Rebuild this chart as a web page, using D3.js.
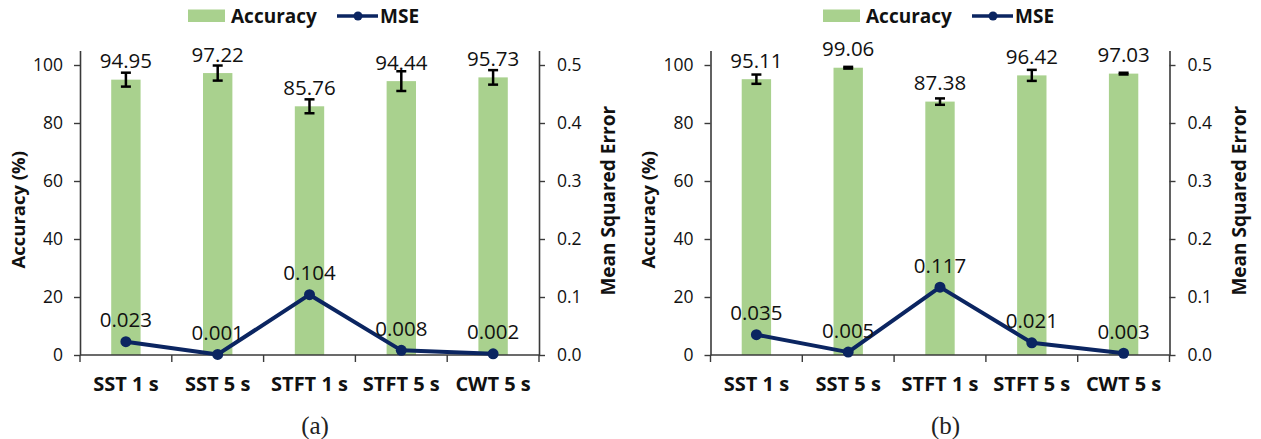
<!DOCTYPE html>
<html>
<head>
<meta charset="utf-8">
<script src="https://cdn.jsdelivr.net/npm/d3@7"></script>
<style>
  html, body { margin: 0; padding: 0; background: #fff; }
  svg { display: block; }
</style>
</head>
<body>
<svg id="chart" width="1261" height="439"></svg>
<script>
// ---------- data ----------
const categories = ["SST 1 s", "SST 5 s", "STFT 1 s", "STFT 5 s", "CWT 5 s"];
const accuracyA = [94.95, 97.22, 85.76, 94.44, 95.73];
const accErrA   = [2.4, 2.6, 2.4, 3.4, 2.5];
const mseA      = [0.023, 0.001, 0.104, 0.008, 0.002];
const accuracyB = [95.11, 99.06, 87.38, 96.42, 97.03];
const accErrB   = [1.6, 0.3, 1.1, 1.9, 0.3];
const mseB      = [0.035, 0.005, 0.117, 0.021, 0.003];
const accTicks  = [0, 20, 40, 60, 80, 100];
const mseTicks  = [0.0, 0.1, 0.2, 0.3, 0.4, 0.5];
const captions  = ["(a)", "(b)"];

// ---------- style ----------
const GREEN = "#A9D18E";
const NAVY = "#0B2561";
const AXIS = "#3a3a3a";
const FONT = "'Open Sans', 'Liberation Sans', sans-serif";

const svg = d3.select("#chart");

function drawPanel(ox, lx, acc, err, mse, caption) {
  const g = svg.append("g").attr("transform", `translate(${ox},0)`);
  const left = 80, right = 539, top = 50.5, bottom = 355;

  const x = d3.scaleBand().domain(categories).range([left, right])
    .paddingInner(0.68).paddingOuter(0.34);
  const y = d3.scaleLinear().domain([0, 105]).range([bottom, top]);
  const y2 = d3.scaleLinear().domain([0, 0.525]).range([bottom, top]);
  const step = x.step();
  const gap = (step - x.bandwidth()) / 2;

  // bars
  g.selectAll("rect.bar").data(categories).join("rect")
    .attr("class", "bar")
    .attr("x", d => x(d))
    .attr("width", x.bandwidth())
    .attr("y", (d, i) => y(acc[i]))
    .attr("height", (d, i) => y(0) - y(acc[i]))
    .attr("fill", GREEN);

  // error bars
  const eb = g.selectAll("g.err").data(categories).join("g").attr("class", "err");
  const cx = d => x(d) + x.bandwidth() / 2;
  eb.append("line")
    .attr("x1", cx).attr("x2", cx)
    .attr("y1", (d, i) => y(acc[i] + err[i]))
    .attr("y2", (d, i) => y(acc[i] - err[i]))
    .attr("stroke", "#000").attr("stroke-width", 2.5);
  [1, -1].forEach(s => {
    eb.append("line")
      .attr("x1", d => cx(d) - 5).attr("x2", d => cx(d) + 5)
      .attr("y1", (d, i) => y(acc[i] + s * err[i]))
      .attr("y2", (d, i) => y(acc[i] + s * err[i]))
      .attr("stroke", "#000").attr("stroke-width", 2.5);
  });

  // accuracy labels
  g.selectAll("text.accl").data(categories).join("text")
    .attr("class", "accl")
    .attr("x", cx)
    .attr("y", (d, i) => y(acc[i]) - 19.5)
    .attr("text-anchor", "middle")
    .attr("dominant-baseline", "central")
    .attr("font-family", FONT).attr("font-size", 20.5)
    .attr("fill", "#111")
    .text((d, i) => acc[i].toFixed(2));

  // axes
  const axL = g.append("g").attr("transform", `translate(${left},0)`)
    .call(d3.axisLeft(y).tickValues(accTicks).tickSize(6).tickSizeOuter(0).tickPadding(11));
  const axR = g.append("g").attr("transform", `translate(${right},0)`)
    .call(d3.axisRight(y2).tickValues(mseTicks).tickFormat(d3.format(".1f"))
      .tickSize(6).tickSizeOuter(0).tickPadding(12));
  [axL, axR].forEach(a => {
    a.select(".domain").attr("stroke", AXIS).attr("stroke-width", 1.6);
    a.selectAll(".tick line").attr("stroke", AXIS).attr("stroke-width", 1.4);
    a.selectAll(".tick text").attr("font-family", FONT).attr("font-size", 17.5).attr("fill", "#111");
  });

  // category axis
  g.append("line").attr("x1", left).attr("x2", right)
    .attr("y1", bottom).attr("y2", bottom)
    .attr("stroke", AXIS).attr("stroke-width", 1.6);
  const bounds = categories.map(c => x(c) - gap).concat([x(categories[categories.length - 1]) + x.bandwidth() + gap]);
  g.selectAll("line.ctick").data(bounds).join("line")
    .attr("class", "ctick")
    .attr("x1", d => d).attr("x2", d => d)
    .attr("y1", bottom).attr("y2", bottom + 7)
    .attr("stroke", AXIS).attr("stroke-width", 1.4);
  g.selectAll("text.cat").data(categories).join("text")
    .attr("class", "cat")
    .attr("x", cx).attr("y", 383)
    .attr("text-anchor", "middle").attr("dominant-baseline", "central")
    .attr("font-family", FONT).attr("font-weight", "bold").attr("font-size", 20)
    .attr("fill", "#111")
    .text(d => d);

  // MSE line
  const line = d3.line().x(d => cx(d)).y((d, i) => y2(mse[i]));
  g.append("path").datum(categories)
    .attr("d", line)
    .attr("fill", "none").attr("stroke", NAVY).attr("stroke-width", 4)
    .attr("stroke-linejoin", "round");
  g.selectAll("circle.pt").data(categories).join("circle")
    .attr("class", "pt")
    .attr("cx", cx).attr("cy", (d, i) => y2(mse[i]))
    .attr("r", 5.5).attr("fill", NAVY);
  g.selectAll("text.msel").data(categories).join("text")
    .attr("class", "msel")
    .attr("x", cx)
    .attr("y", (d, i) => y2(mse[i]) - 22.5)
    .attr("text-anchor", "middle").attr("dominant-baseline", "central")
    .attr("font-family", FONT).attr("font-size", 20.5)
    .attr("fill", "#111")
    .text((d, i) => mse[i].toFixed(3));

  // axis titles
  g.append("text")
    .attr("transform", `translate(17,${(top + bottom) / 2 + 7}) rotate(-90)`)
    .attr("text-anchor", "middle").attr("dominant-baseline", "central")
    .attr("font-family", FONT).attr("font-weight", "bold").attr("font-size", 18.5)
    .attr("fill", "#111")
    .text("Accuracy (%)");
  g.append("text")
    .attr("transform", `translate(608,${(top + bottom) / 2 - 2}) rotate(-90)`)
    .attr("text-anchor", "middle").attr("dominant-baseline", "central")
    .attr("font-family", FONT).attr("font-weight", "bold").attr("font-size", 19)
    .attr("fill", "#111")
    .text("Mean Squared Error");

  // legend
  const lg = svg.append("g").attr("transform", `translate(${lx},0)`);
  lg.append("rect").attr("x", 188).attr("y", 9.5).attr("width", 37).attr("height", 12.5).attr("fill", GREEN);
  lg.append("text").attr("x", 231).attr("y", 16)
    .attr("dominant-baseline", "central")
    .attr("font-family", FONT).attr("font-weight", "bold").attr("font-size", 19)
    .attr("fill", "#111").text("Accuracy");
  lg.append("line").attr("x1", 337).attr("x2", 378).attr("y1", 16).attr("y2", 16)
    .attr("stroke", NAVY).attr("stroke-width", 3.5);
  lg.append("circle").attr("cx", 358).attr("cy", 16).attr("r", 4.5).attr("fill", NAVY);
  lg.append("text").attr("x", 380).attr("y", 16)
    .attr("dominant-baseline", "central")
    .attr("font-family", FONT).attr("font-weight", "bold").attr("font-size", 19)
    .attr("fill", "#111").text("MSE");

  // caption
  g.append("text").attr("x", 315).attr("y", 425)
    .attr("text-anchor", "middle").attr("dominant-baseline", "central")
    .attr("font-family", "'Liberation Serif', 'DejaVu Serif', serif").attr("font-size", 25)
    .attr("fill", "#222").text(caption);
}

drawPanel(0, 0, accuracyA, accErrA, mseA, captions[0]);
drawPanel(630.5, 635, accuracyB, accErrB, mseB, captions[1]);
</script>
</body>
</html>
